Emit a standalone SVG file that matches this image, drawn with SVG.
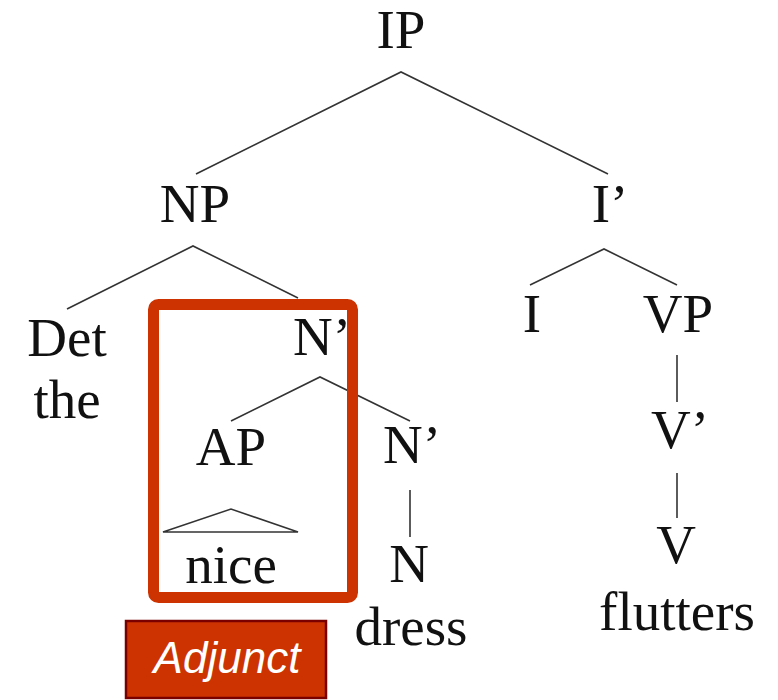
<svg xmlns="http://www.w3.org/2000/svg" width="778" height="700" viewBox="0 0 778 700">
<style>
.t{font-family:"Liberation Serif","Times New Roman",serif;font-size:55px;fill:#111;text-anchor:middle}
.e{stroke:#333;stroke-width:1.6;fill:none;stroke-linejoin:miter}
</style>
<rect x="0" y="0" width="778" height="700" fill="#fff"/>
<g id="connectors">
<polyline class="e" points="196,174 401,72 608,174"/>
<polyline class="e" points="67,309 193,246 298,298"/>
<polyline class="e" points="231,421 320,377 410,421"/>
<line class="e" x1="410" y1="490" x2="410" y2="537"/>
<polyline class="e" points="530,285 604,249 677,285"/>
<line class="e" x1="677" y1="355" x2="677" y2="402"/>
<line class="e" x1="677" y1="473" x2="677" y2="518"/>
<polygon class="e" points="163,532 231,509 298,532"/>
</g>
<g id="IP"><text class="t" x="401" y="48">IP</text></g>
<g id="NP"><text class="t" x="195" y="222">NP</text></g>
<g id="I-bar"><text class="t" x="610" y="222">I’</text></g>
<g id="Det"><text class="t" x="67" y="356">Det</text><text class="t" x="67" y="418">the</text></g>
<g id="N-bar1"><text class="t" x="322" y="355">N’</text></g>
<g id="AP"><text class="t" x="231" y="465">AP</text></g>
<g id="nice"><text class="t" x="231" y="583">nice</text></g>
<g id="N-bar2"><text class="t" x="412" y="463">N’</text></g>
<g id="N"><text class="t" x="409" y="582">N</text><text class="t" x="411" y="645">dress</text></g>
<g id="I"><text class="t" x="532" y="332">I</text></g>
<g id="VP"><text class="t" x="678" y="332">VP</text></g>
<g id="V-bar"><text class="t" x="680" y="448">V’</text></g>
<g id="V"><text class="t" x="676" y="563">V</text><text class="t" x="677" y="630">flutters</text></g>
<g id="adjunct-box"><rect x="153.5" y="304.5" width="199" height="293" rx="5" fill="none" stroke="#CC3300" stroke-width="11"/></g>
<g id="adjunct-label">
<rect x="126" y="621" width="200" height="77" fill="#CC3300" stroke="#7a0000" stroke-width="2.5"/>
<text x="227" y="673" font-family="Liberation Sans,Arial,sans-serif" font-style="italic" font-size="44" fill="#fff" text-anchor="middle">Adjunct</text>
</g>
</svg>
